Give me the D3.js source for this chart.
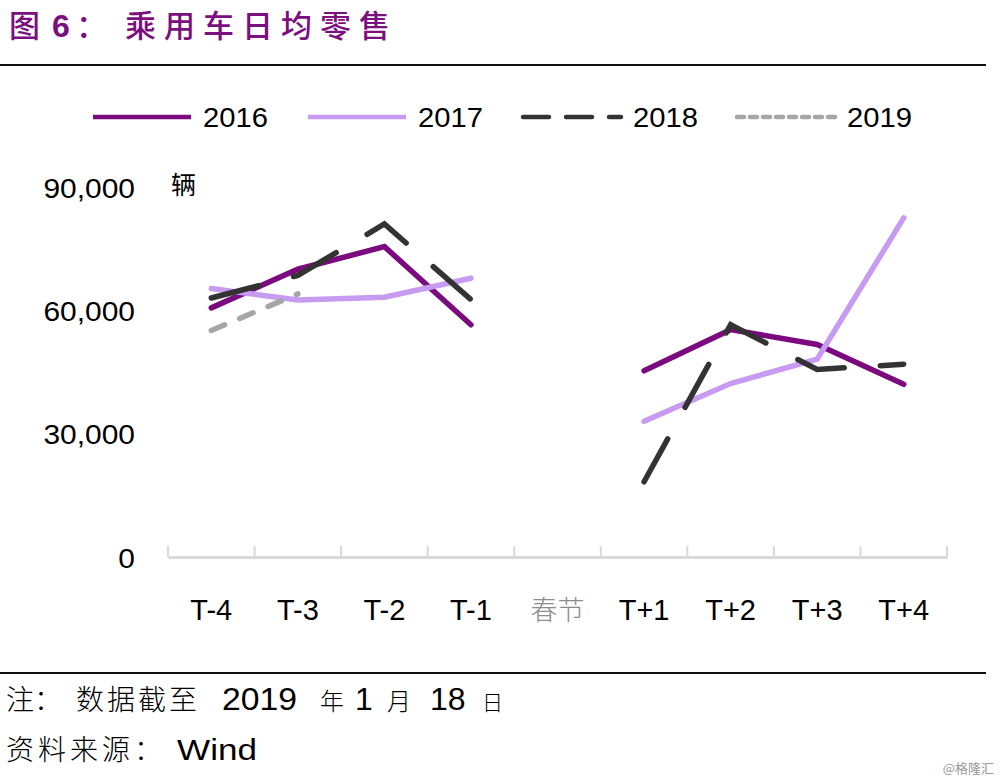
<!DOCTYPE html>
<html><head><meta charset="utf-8">
<script src="https://cdn.jsdelivr.net/npm/d3@7"></script>
<style>
html,body{margin:0;padding:0;background:#fff;}
svg{display:block;}
</style></head>
<body>
<svg id="c" width="1000" height="783"></svg>
<script>
const categories = ["T-4","T-3","T-2","T-1","春节","T+1","T+2","T+3","T+4"];
const s2016 = [60600, 70000, 75500, 56500, null, 45300, 55300, 51700, 42000];
const s2017 = [65300, 62500, 63200, 67800, null, 33000, 42200, 48100, 82500];
const s2018 = [63000, 68500, 81000, 62600, null, 18300, 56500, 45600, 46900];
const s2019 = [55100, 64000, null, null, null, null, null, null, null];
const yTicks = [0, 30000, 60000, 90000];
const seriesNames = ["2016","2017","2018","2019"];

const svg = d3.select("#c");
const CN = "'Noto Sans CJK SC', 'Liberation Sans', sans-serif";
const LAT = "'Liberation Sans', Arial, sans-serif";
const TITLE_C = "#7B0F7E";

// title
const title = svg.append("text").attr("y", 37).attr("fill", TITLE_C).attr("font-size", 31);
title.append("tspan").attr("x", 9).attr("font-family", CN).attr("font-weight", 500).text("图");
title.append("tspan").attr("x", 52).attr("font-family", LAT).attr("font-weight", "bold").attr("font-size", 32).text("6");
title.append("tspan").attr("x", 76).attr("font-family", CN).attr("font-weight", 500).text("：");
title.append("tspan").attr("x", 125).attr("font-family", CN).attr("font-weight", 500)
  .attr("letter-spacing", 8).text("乘用车日均零售");

svg.append("line").attr("x1", 0).attr("x2", 986).attr("y1", 65).attr("y2", 65)
  .attr("stroke", "#111").attr("stroke-width", 2);
svg.append("line").attr("x1", 0).attr("x2", 986).attr("y1", 673).attr("y2", 673)
  .attr("stroke", "#111").attr("stroke-width", 2);

const x = d3.scaleBand().domain(categories).range([168, 947]);
const y = d3.scaleLinear().domain([0, 90000]).range([557, 187]);

// y axis labels
const yAxis = d3.axisLeft(y).tickValues(yTicks).tickSize(0).tickPadding(0)
  .tickFormat(d3.format(","));
const gy = svg.append("g").attr("transform", "translate(135,0)").call(yAxis);
gy.select(".domain").remove();
gy.selectAll("text").attr("font-family", LAT).attr("font-size", 28).attr("fill", "#000")
  .attr("dy", "0.36em").attr("transform", "scale(1.07,1)");

svg.append("text").attr("x", 171).attr("y", 194).attr("font-family", CN)
  .attr("font-size", 25).attr("fill", "#000").text("辆");

// x axis
const xAxis = d3.axisBottom(x).tickSize(-11).tickPadding(0).tickSizeOuter(0);
const gx = svg.append("g").attr("transform", "translate(0,557)").call(xAxis);
gx.select(".domain").attr("stroke", "#d9d9d9").attr("stroke-width", 3);
gx.selectAll(".tick line").remove();
const tickPos = categories.map(c => x(c)).concat([x.range()[1]]);
gx.selectAll("line.tk").data(tickPos).enter().append("line").attr("class","tk")
  .attr("x1", d => d).attr("x2", d => d).attr("y1", 0).attr("y2", -11)
  .attr("stroke", "#d9d9d9").attr("stroke-width", 2);
gx.selectAll(".tick").attr("transform", d => `translate(${x(d) + x.bandwidth()/2},0)`);
gx.selectAll(".tick text").attr("y", 63).attr("dy", 0)
  .attr("font-family", d => d === "春节" ? CN : LAT)
  .attr("font-size", d => d === "春节" ? 27 : 29)
  .attr("font-weight", d => d === "春节" ? 300 : null)
  .attr("fill", d => d === "春节" ? "#8c8c8c" : "#000");

const series = [
  {name: "2016", data: s2016, color: "#7B0A7E", dash: null, w: 5.5},
  {name: "2017", data: s2017, color: "#C79BF2", dash: null, w: 5.5},
  {name: "2018", data: s2018, color: "#333333", dash: "49,36", w: 5.5},
  {name: "2019", data: s2019, color: "#A6A6A6", dash: "14.5,16.3", w: 5.5}
];

const line = d3.line()
  .defined(d => d.v !== null)
  .x(d => x(d.c) + x.bandwidth()/2)
  .y(d => y(d.v));

series.forEach(s => {
  const pts = categories.map((c, i) => ({c, v: s.data[i]}));
  const segs = [];
  let cur = [];
  pts.forEach(p => { if (p.v === null) { if (cur.length) segs.push(cur); cur = []; } else cur.push(p); });
  if (cur.length) segs.push(cur);
  segs.forEach(seg => {
    svg.append("path").datum(seg).attr("d", line)
      .attr("fill", "none").attr("stroke", s.color).attr("stroke-width", s.w)
      .attr("stroke-linecap", "round").attr("stroke-linejoin", "miter")
      .attr("stroke-dasharray", s.dash);
  });
});

// legend
const legendX = [93, 308, 523, 737];
const lg = svg.append("g");
series.forEach((s, i) => {
  lg.append("line").attr("x1", legendX[i]).attr("x2", legendX[i] + 98)
    .attr("y1", 117).attr("y2", 117)
    .attr("stroke", s.color).attr("stroke-width", 4.5)
    .attr("stroke-dasharray", i === 2 ? "26,17" : (i === 3 ? "7,6" : null))
    .attr("stroke-linecap", i >= 2 ? "round" : "butt");
  lg.append("text").attr("x", legendX[i] + 110).attr("y", 127)
    .attr("font-family", LAT).attr("font-size", 28).attr("fill", "#000")
    .attr("textLength", 65).attr("lengthAdjust", "spacingAndGlyphs")
    .text(seriesNames[i]);
});

// notes
const n1 = svg.append("text").attr("y", 710).attr("fill", "#000").attr("font-family", CN).attr("font-size", 28).attr("font-weight", 300);
n1.append("tspan").attr("x", 6).text("注：");
n1.append("tspan").attr("x", 76).attr("letter-spacing", 3).text("数据截至");
n1.append("tspan").attr("x", 222).attr("font-family", LAT).attr("font-size", 32).attr("font-weight", "normal")
  .attr("textLength", 75).attr("lengthAdjust", "spacingAndGlyphs").text("2019");
n1.append("tspan").attr("x", 320).attr("font-size", 24).text("年");
n1.append("tspan").attr("x", 355).attr("font-family", LAT).attr("font-size", 32).attr("font-weight", "normal").text("1");
n1.append("tspan").attr("x", 387).attr("font-size", 24).text("月");
n1.append("tspan").attr("x", 430).attr("font-family", LAT).attr("font-size", 32).attr("font-weight", "normal").text("18");
n1.append("tspan").attr("x", 482).attr("font-size", 21).text("日");

const n2 = svg.append("text").attr("y", 760).attr("fill", "#000").attr("font-family", CN).attr("font-size", 28).attr("font-weight", 300);
n2.append("tspan").attr("x", 6).attr("letter-spacing", 4).text("资料来源：");
n2.append("tspan").attr("x", 177).attr("font-family", LAT).attr("font-size", 30).attr("font-weight", "normal")
  .attr("textLength", 80).attr("lengthAdjust", "spacingAndGlyphs").text("Wind");

svg.append("text").attr("x", 994).attr("y", 773).attr("text-anchor", "end")
  .attr("font-family", CN).attr("font-size", 13).attr("fill", "#999").text("@格隆汇");
</script>
</body></html>
